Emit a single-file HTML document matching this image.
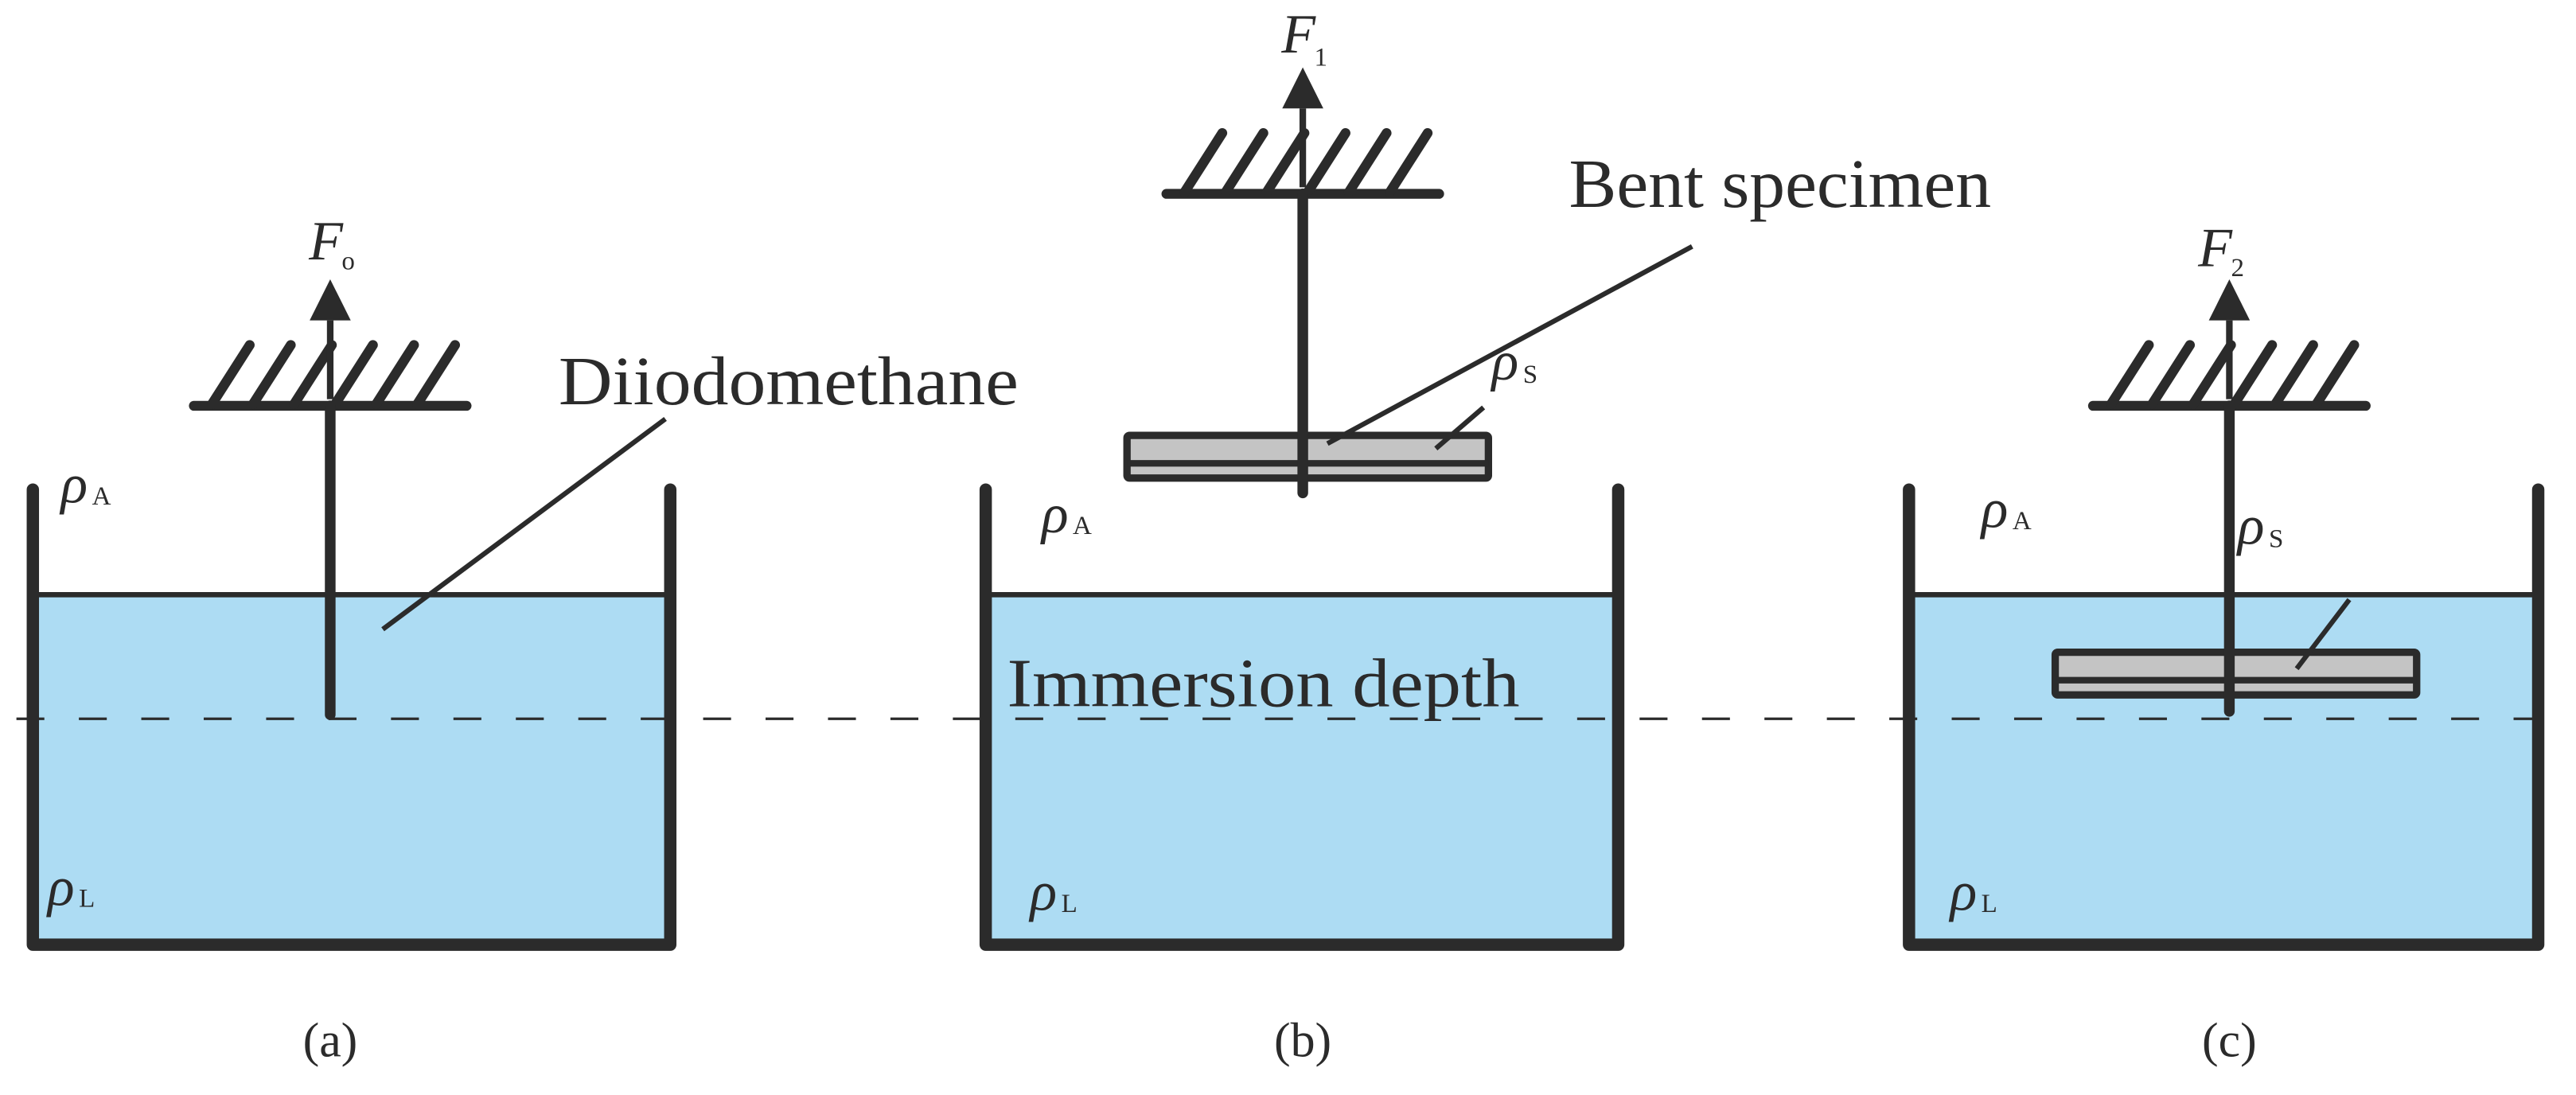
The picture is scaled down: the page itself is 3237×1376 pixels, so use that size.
<!DOCTYPE html>
<html><head><meta charset="utf-8"><style>
html,body{margin:0;padding:0;background:#fff;}
svg{display:block;}
text{font-family:"Liberation Serif",serif;fill:#2b2b2b;}
</style></head><body>
<svg width="3237" height="1376" viewBox="0 0 1568 666.5" preserveAspectRatio="none" xmlns="http://www.w3.org/2000/svg">
<defs>
<g id="hatch" stroke="#2b2b2b" stroke-width="6" stroke-linecap="round" fill="none">
  <line x1="-83" y1="0" x2="83" y2="0"/>
  <line x1="-72" y1="-1" x2="-49" y2="-37"/>
  <line x1="-47" y1="-1" x2="-24" y2="-37"/>
  <line x1="-22" y1="-1" x2="1" y2="-37"/>
  <line x1="3" y1="-1" x2="26" y2="-37"/>
  <line x1="28" y1="-1" x2="51" y2="-37"/>
  <line x1="53" y1="-1" x2="76" y2="-37"/>
  <line x1="0" y1="-4" x2="0" y2="-52" stroke-width="4" stroke-linecap="butt"/>
  <polygon points="0,-77 -12.5,-52 12.5,-52" fill="#2b2b2b" stroke="none"/>
</g>
<g id="spec">
  <rect x="0" y="0" width="220" height="26" fill="#c4c4c4" stroke="#2b2b2b" stroke-width="4.5" rx="1.5"/>
  <line x1="0" y1="17" x2="220" y2="17" stroke="#2b2b2b" stroke-width="4"/>
</g>
</defs>

<rect x="20" y="362" width="388" height="213" fill="#addcf3"/>
<rect x="600" y="362" width="385" height="213" fill="#addcf3"/>
<rect x="1162" y="362" width="383" height="213" fill="#addcf3"/>

<line x1="10" y1="437.5" x2="1560" y2="437.5" stroke="#2b2b2b" stroke-width="1.6" stroke-dasharray="17,21"/>

<g stroke="#2b2b2b" stroke-width="3.2">
  <line x1="20" y1="362" x2="408" y2="362"/>
  <line x1="600" y1="362" x2="985" y2="362"/>
  <line x1="1162" y1="362" x2="1545" y2="362"/>
</g>

<g stroke="#2b2b2b" stroke-width="7.5" fill="none" stroke-linejoin="round" stroke-linecap="round">
  <polyline points="20,298 20,575 408,575 408,298"/>
  <polyline points="600,298 600,575 985,575 985,298"/>
  <polyline points="1162,298 1162,575 1545,575 1545,298"/>
</g>

<use href="#hatch" x="201" y="247"/>
<line x1="201" y1="247" x2="201" y2="435" stroke="#2b2b2b" stroke-width="6.5" stroke-linecap="round"/>
<line x1="233" y1="383" x2="405" y2="255" stroke="#2b2b2b" stroke-width="3"/>

<use href="#hatch" x="793" y="118"/>
<use href="#spec" x="686" y="265"/>
<line x1="793" y1="118" x2="793" y2="300" stroke="#2b2b2b" stroke-width="6.5" stroke-linecap="round"/>
<line x1="808" y1="270" x2="1030" y2="150" stroke="#2b2b2b" stroke-width="3"/>
<line x1="874" y1="273" x2="903" y2="248" stroke="#2b2b2b" stroke-width="3"/>

<use href="#hatch" x="1357" y="247"/>
<use href="#spec" x="1251" y="397"/>
<line x1="1357" y1="247" x2="1357" y2="433" stroke="#2b2b2b" stroke-width="6.5" stroke-linecap="round"/>
<line x1="1398" y1="407" x2="1430" y2="365" stroke="#2b2b2b" stroke-width="3"/>

<text x="188" y="158" font-size="34" font-style="italic">F</text><text x="208" y="164" font-size="16">o</text>
<text x="780" y="32" font-size="34" font-style="italic">F</text><text x="800" y="40" font-size="16">1</text>
<text x="1338" y="162" font-size="34" font-style="italic">F</text><text x="1358" y="168" font-size="16">2</text>

<text x="340" y="246" font-size="42" textLength="280" lengthAdjust="spacingAndGlyphs">Diiodomethane</text>
<text x="955" y="126" font-size="42" textLength="257" lengthAdjust="spacingAndGlyphs">Bent specimen</text>
<text x="613" y="430" font-size="42" textLength="312" lengthAdjust="spacingAndGlyphs">Immersion depth</text>

<g font-size="34" font-style="italic">
<text x="37" y="306">ρ</text><text x="634" y="324">ρ</text><text x="1206" y="321">ρ</text>
<text x="29" y="551">ρ</text><text x="627" y="554">ρ</text><text x="1187" y="554">ρ</text>
<text x="908" y="231">ρ</text><text x="1362" y="331">ρ</text>
</g>
<g font-size="16">
<text x="56" y="307">A</text><text x="653" y="325">A</text><text x="1225" y="322">A</text>
<text x="48" y="552">L</text><text x="646" y="555">L</text><text x="1206" y="555">L</text>
<text x="927" y="233">S</text><text x="1381" y="333">S</text>
</g>

<g font-size="30" text-anchor="middle">
<text x="201" y="643">(a)</text>
<text x="793" y="643">(b)</text>
<text x="1357" y="643">(c)</text>
</g>
</svg>
</body></html>
